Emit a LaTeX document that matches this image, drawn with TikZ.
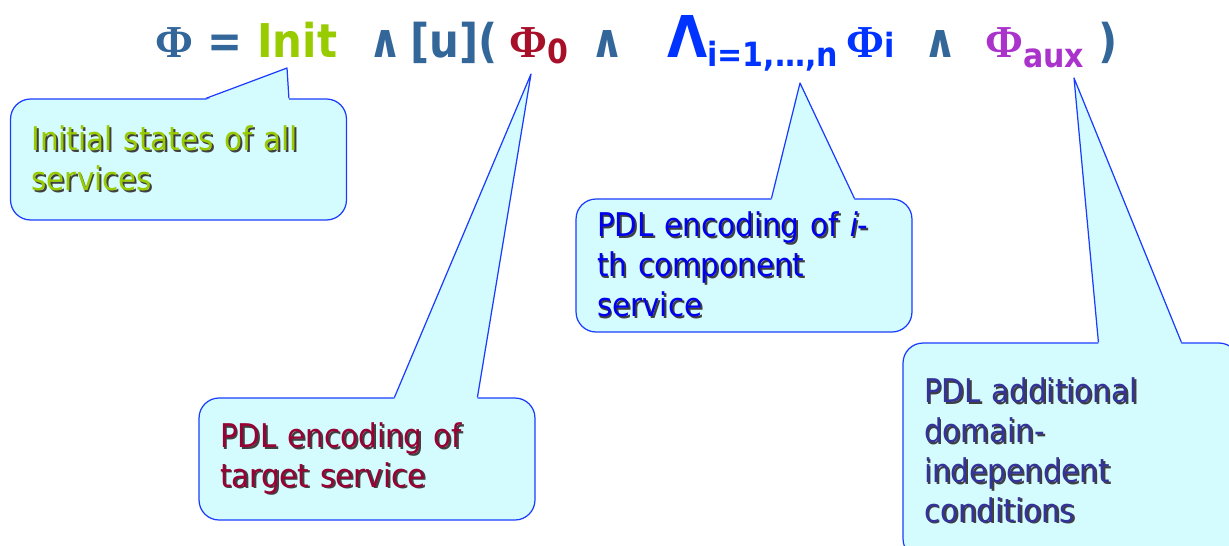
\documentclass[tikz,border=0pt]{standalone}
\usepackage{fontspec}
\setmainfont{DejaVu Sans Condensed}
\newfontfamily\phifont{Liberation Serif}
\usetikzlibrary{calc}

\definecolor{steel}{HTML}{336699}
\definecolor{initgreen}{HTML}{99CC00}
\definecolor{targetred}{HTML}{A8102A}
\definecolor{compblue}{HTML}{0033FF}
\definecolor{auxpurple}{HTML}{AA33CC}
\definecolor{notefill}{HTML}{D4FCFF}
\definecolor{noteline}{HTML}{1A3CFF}
\definecolor{notered}{HTML}{990033}
\definecolor{noteblue}{HTML}{0000EE}
\definecolor{notenavy}{HTML}{333399}

% text with a shadow below right
\newcommand{\sh}[2][black!75]{\leavevmode\rlap{\kern1.1pt\raisebox{-1.1pt}{\textcolor{#1}{#2}}}#2}
\newcommand{\sub}[2]{\raisebox{-#1}{\fontsize{19}{19}\selectfont #2}}
\newcommand{\Phisym}{{\phifont\fontsize{26}{26}\selectfont Φ}}

\tikzset{
  formula/.style={anchor=base west, inner sep=0pt, font=\fontsize{26.5}{30}\selectfont\bfseries},
  note/.style={draw=noteline, fill=notefill, line width=0.7pt, rounded corners=0.4cm,
    minimum width=6.72cm, text width=5.88cm, inner xsep=0.42cm, align=left,
    font=\fontsize{18.6}{22.7}\selectfont},
  tip/.style={draw=noteline, line width=0.7pt, line join=round}
}

\begin{document}
\begin{tikzpicture}[x=0.02cm, y=-0.02cm]
    \useasboundingbox (0,0) rectangle (1229,545);

    % the callouts
    \node[note, minimum height=2.42cm, text=initgreen] (initnote) at (178.5,159.5) {\sh{Initial states of all}\\\sh{services}};
    \node[note, minimum height=2.44cm, text=notered] (targetnote) at (367,459) {\sh{PDL encoding of}\\\sh{target service}};
    \node[note, minimum height=2.66cm, text=noteblue] (compnote) at (744,265.5) {\sh{PDL encoding of \textit{i}-}\\\sh{th component}\\\sh{service}};
    \node[note, minimum height=4.32cm, text=notenavy] (auxnote) at (1071,451) {\sh{PDL additional}\\\sh{domain-}\\\sh{independent}\\\sh{conditions}};

    % the formula
    \node[formula, text=steel] (phi) at (155,57) {\Phisym};
    \node[formula, text=steel] (eq) at (207,57) {=};
    \node[formula, text=initgreen] (init) at (257,57) {Init};
    \node[formula, text=steel] (andA) at (368,57) {∧};
    \node[formula, text=steel] (box) at (410,57) {[u](};
    \node[formula, text=targetred] (phio) at (509,57) {\Phisym\sub{0.12cm}{0}};
    \node[formula, text=steel] (andB) at (590,57) {∧};
    \node[formula, text=compblue] (bigand) at (667,57) {{\fontsize{32.8}{33}\selectfont Λ}\sub{0.18cm}{i=1,…,n}};
    \node[formula, text=compblue] (phii) at (846,57) {\Phisym{\fontsize{19}{19}\selectfont i}};
    \node[formula, text=steel] (andC) at (923,57) {∧};
    \node[formula, text=auxpurple] (phiaux) at (985,57) {\Phisym\sub{0.2cm}{aux}};
    \node[formula, text=steel] (rpar) at (1098,57) {)};

    \coordinate (initTip) at (287,68);
    \coordinate (targetTip) at (531,74);
    \coordinate (compTip) at (800,83);
    \coordinate (auxTip) at (1074,78);

    % Draw the pointers
    \foreach \n/\t in {initnote/initTip, targetnote/targetTip, compnote/compTip, auxnote/auxTip}{
      \fill[notefill] ($(\n.north west)+(196,1.5)$) -- (\t) -- ($(\n.north west)+(279,1.5)$) -- cycle;
      \draw[tip] ($(\n.north west)+(196,0)$) -- (\t) -- ($(\n.north west)+(279,0)$);
    }
\end{tikzpicture}
\end{document}
